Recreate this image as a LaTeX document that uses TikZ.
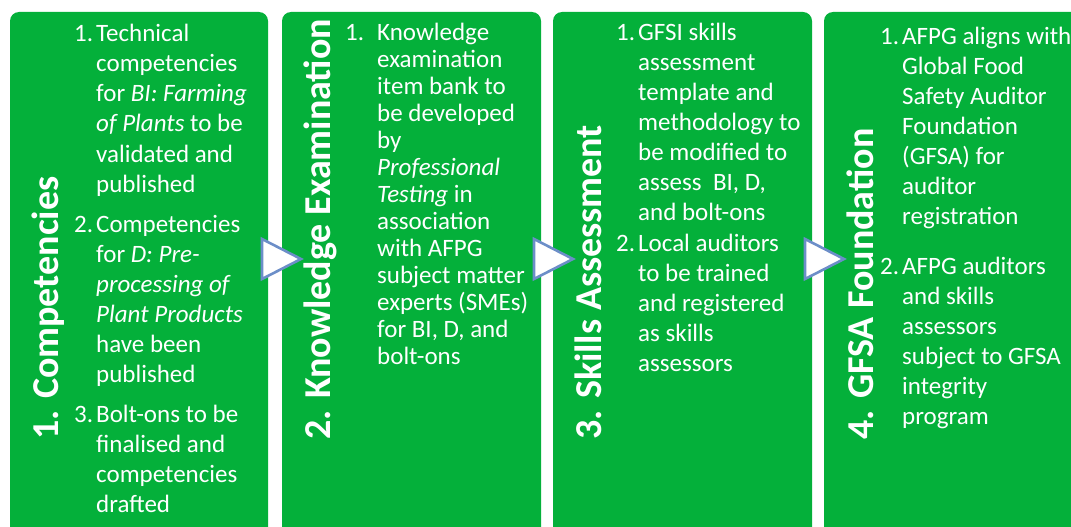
\documentclass[tikz,border=0pt]{standalone}
\usepackage{fontspec}
\setmainfont{Carlito}
\definecolor{stagegreen}{RGB}{4,176,58}
\definecolor{arrowblue}{RGB}{108,142,200}

% a column of lines with a fixed baseline distance; its baseline is that of the first line
\newcommand\linestack[2]{\vtop{\baselineskip=#1\lineskiplimit=-100pt\lineskip=0pt #2}}
\newcommand\tl[1]{\hbox{#1}}

\tikzset{
  stagebox/.style={fill=stagegreen, rounded corners=9pt},
  stagetitle/.style={anchor=base west, rotate=90, inner sep=0pt, text=white,
    font=\fontsize{38}{40}\selectfont\bfseries},
  itemnum/.style={anchor=base west, inner sep=0pt, text=white,
    font=\fontsize{25}{30}\selectfont},
  itemtext/.style={anchor=base west, inner sep=0pt, text=white,
    font=\fontsize{25}{30}\selectfont},
  stagearrow/.style={fill=white, draw=arrowblue, line width=2.6pt, line join=miter}
}

\begin{document}
\begin{tikzpicture}[x=1pt,y=-1pt]
\useasboundingbox (0,0) rectangle (1071,527);
\clip (0,0) rectangle (1071,527);

% four stage panels, running off the lower (and last one the right) edge
\fill[stagebox] (10,12)  rectangle (268,560);
\fill[stagebox] (282,12) rectangle (541,560);
\fill[stagebox] (553,12) rectangle (812,560);
\fill[stagebox] (824,12) rectangle (1110,560);

% vertical stage titles
\node[stagetitle] (t1) at (58,440)  {1. Competencies};
\node[stagetitle] (t2) at (330,440) {2. Knowledge Examination};
\node[stagetitle] (t3) at (601,440) {3. Skills Assessment};
\node[stagetitle] (t4) at (873,440) {4. GFSA Foundation};

% stage 1
\node[itemnum]  (n11) at (74,42)  {1.};
\node[itemtext] (i11) at (96,42)  {\linestack{30pt}{\tl{Technical}\tl{competencies}\tl{for \textit{BI: Farming}}\tl{\textit{of Plants} to be}\tl{validated and}\tl{published}}};
\node[itemnum]  (n12) at (74,232) {2.};
\node[itemtext] (i12) at (96,232) {\linestack{30pt}{\tl{Competencies}\tl{for \textit{D: Pre-}}\tl{\textit{processing of}}\tl{\textit{Plant Products}}\tl{have been}\tl{published}}};
\node[itemnum]  (n13) at (74,422) {3.};
\node[itemtext] (i13) at (96,422) {\linestack{30pt}{\tl{Bolt-ons to be}\tl{finalised and}\tl{competencies}\tl{drafted}}};

% stage 2
\node[itemnum]  (n21) at (345,41) {1.};
\node[itemtext] (i21) at (377,41) {\linestack{27pt}{\tl{Knowledge}\tl{examination}\tl{item bank to}\tl{be developed}\tl{by}\tl{\textit{Professional}}\tl{\textit{Testing} in}\tl{association}\tl{with AFPG}\tl{subject matter}\tl{experts (SMEs)}\tl{for BI, D, and}\tl{bolt-ons}}};

% stage 3
\node[itemnum]  (n31) at (616,41)  {1.};
\node[itemtext] (i31) at (638,41)  {\linestack{30pt}{\tl{GFSI skills}\tl{assessment}\tl{template and}\tl{methodology to}\tl{be modified to}\tl{assess\ \ BI, D,}\tl{and bolt-ons}}};
\node[itemnum]  (n32) at (616,251) {2.};
\node[itemtext] (i32) at (638,251) {\linestack{30pt}{\tl{Local auditors}\tl{to be trained}\tl{and registered}\tl{as skills}\tl{assessors}}};

% stage 4
\node[itemnum]  (n41) at (880,45)  {1.};
\node[itemtext] (i41) at (902,45)  {\linestack{30pt}{\tl{AFPG aligns with}\tl{Global Food}\tl{Safety Auditor}\tl{Foundation}\tl{(GFSA) for}\tl{auditor}\tl{registration}}};
\node[itemnum]  (n42) at (880,274) {2.};
\node[itemtext] (i42) at (902,274) {\linestack{30pt}{\tl{AFPG auditors}\tl{and skills}\tl{assessors}\tl{subject to GFSA}\tl{integrity}\tl{program}}};

% chevrons between the stages
\draw[stagearrow] (262,239) -- (301,259) -- (262,279) -- cycle;
\draw[stagearrow] (534,239) -- (573,259) -- (534,279) -- cycle;
\draw[stagearrow] (805,239) -- (844,259) -- (805,279) -- cycle;
\end{tikzpicture}
\end{document}
